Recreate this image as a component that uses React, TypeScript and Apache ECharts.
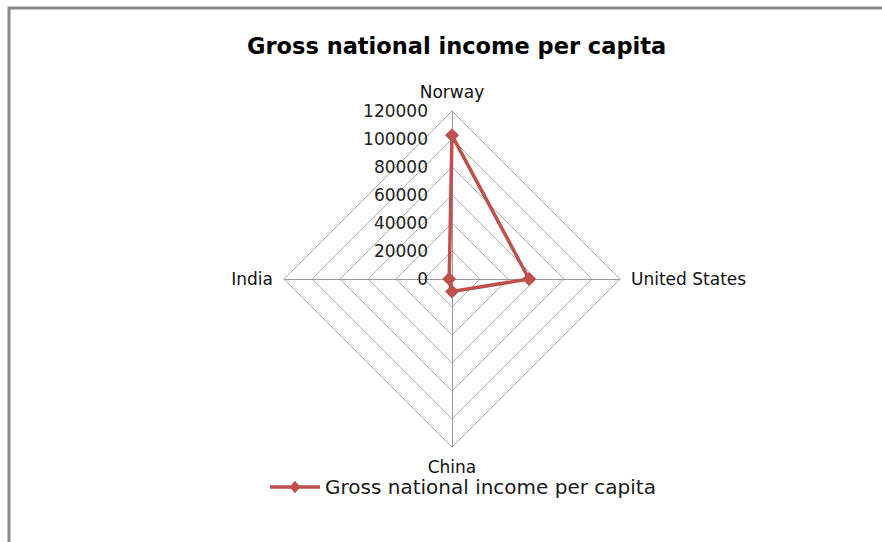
import React, { useEffect, useRef } from "react";
import * as echarts from "echarts";

// ECharts radar runs counter-clockwise from the top; the picture reads Norway (top),
// United States (right), China (bottom), India (left).
const countries = ["Norway", "India", "China", "United States"];
const gniValues = [102600, 2000, 9000, 55000];
const axisMax = 120000;
const seriesName = "Gross national income per capita";
const titleText = "Gross national income per capita";

export default function App() {
  const ref = useRef<HTMLDivElement>(null);
  useEffect(() => {
    if (!ref.current) return;
    const chart = echarts.init(ref.current, null, { renderer: "svg" });
    const font = "'DejaVu Sans', 'Open Sans', sans-serif";
    chart.setOption({
      animation: false,
      backgroundColor: "#ffffff",
      title: {
        text: titleText,
        left: 242,
        top: 29,
        textStyle: { fontFamily: font, fontSize: 22.5, fontWeight: "bold", color: "#000" },
      },
      graphic: [
        {
          type: "polyline",
          shape: { points: [[9, 560], [9, 8], [900, 8]] },
          style: { stroke: "#8a8a8a", lineWidth: 3, fill: "none" },
        },
      ],
      legend: {
        top: 472,
        left: 265,
        icon: "path://M0,5 L50,5 L50,8.5 L0,8.5 Z M25,0.5 L30.5,6.75 L25,13 L19.5,6.75 Z",
        itemWidth: 50,
        itemHeight: 13,
        itemGap: 8,
        textStyle: { fontFamily: font, fontSize: 20, color: "#1a1a1a" },
        data: [seriesName],
      },
      radar: {
        center: [452, 279],
        radius: 168,
        startAngle: 90,
        shape: "polygon",
        splitNumber: 6,
        nameGap: 11,
        axisName: { color: "#111", fontFamily: font, fontSize: 17 },
        splitLine: { lineStyle: { color: "#b0b0b0", width: 1 } },
        splitArea: { show: false },
        axisLine: { lineStyle: { color: "#999", width: 1 } },
        indicator: countries.map((c, i) => ({
          name: c,
          max: axisMax,
          min: 0,
          ...(i === 0
            ? {
                axisLabel: {
                  show: true,
                  fontFamily: font,
                  fontSize: 17,
                  color: "#222",
                  margin: 24,
                  formatter: (v: number) => String(v),
                },
              }
            : {}),
        })),
      },
      series: [
        {
          name: seriesName,
          type: "radar",
          symbol: "diamond",
          symbolSize: 14,
          itemStyle: { color: "#C0504D" },
          lineStyle: { color: "#C0504D", width: 3.5 },
          data: [{ value: gniValues, name: seriesName }],
        },
      ],
    });
    return () => chart.dispose();
  }, []);
  return (
    <div
      ref={ref}
      style={{ position: "absolute", left: 0, top: 0, width: 882, height: 542 }}
    />
  );
}
